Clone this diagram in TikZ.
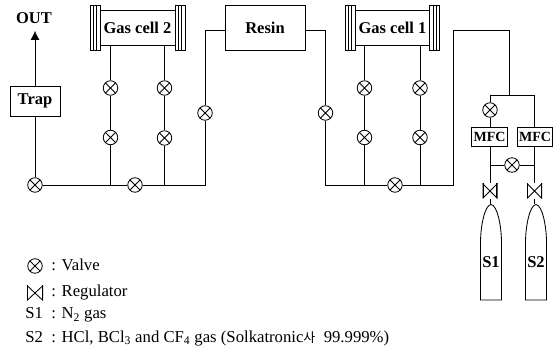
\documentclass[tikz,border=0pt]{standalone}
\usepackage{fontspec}
\usetikzlibrary{arrows.meta,backgrounds}
\setmainfont{Liberation Serif}
\newfontfamily\krfont{Noto Sans CJK KR}
\begin{document}
\begin{tikzpicture}[x=1pt,y=-1pt,line width=0.85pt,
  valve/.style={circle,draw,fill=white,minimum size=14.5pt,inner sep=0pt,
    path picture={\draw (path picture bounding box.north west)--(path picture bounding box.south east)
      (path picture bounding box.south west)--(path picture bounding box.north east);}},
  regulator/.style={minimum width=15pt,minimum height=15pt,inner sep=0pt,
    path picture={\draw (path picture bounding box.north west)--(path picture bounding box.south east)
      (path picture bounding box.south west)--(path picture bounding box.north east);
      \draw[line width=2.6pt] (path picture bounding box.north west)--(path picture bounding box.south west)
      (path picture bounding box.north east)--(path picture bounding box.south east);}},
  box/.style={draw,fill=white,inner sep=0pt,font=\bfseries\fontsize{16.5}{16.5}\selectfont},
  mfc/.style={box,minimum width=35.5pt,minimum height=19pt,font=\bfseries\fontsize{14}{14}\selectfont},
  flange/.style={draw,fill=white,minimum width=10pt,minimum height=45pt,inner sep=0pt,
    path picture={\draw ([xshift=3.5pt]path picture bounding box.north west)--([xshift=3.5pt]path picture bounding box.south west)
    ([xshift=-3.5pt]path picture bounding box.north east)--([xshift=-3.5pt]path picture bounding box.south east);}},
  label/.style={font=\bfseries\fontsize{16.5}{16.5}\selectfont,inner sep=0pt},
  legend/.style={font=\fontsize{16.7}{16.7}\selectfont,inner sep=0pt,anchor=base west}]
\useasboundingbox (0,0) rectangle (559,352);
% junctions
\coordinate (j1) at (110.5,185);
\coordinate (j2) at (164.5,185);
\coordinate (j3) at (205,185);
\coordinate (j4) at (205,30.5);
\coordinate (j5) at (325.5,30.5);
\coordinate (j6) at (325.5,185);
\coordinate (j7) at (364.5,185);
\coordinate (j8) at (420,185);
\coordinate (j9) at (453.5,185);
\coordinate (j10) at (453.5,30.5);
\coordinate (j11) at (509.5,30.5);
\coordinate (j12) at (509.5,95);
\coordinate (j13) at (490,95);
\coordinate (j14) at (534.5,95);
\coordinate (j15) at (490,165);
\coordinate (j16) at (534.5,165);
\coordinate (c1) at (490,204.5);
\coordinate (c2) at (534.5,204.5);
\coordinate (outtip) at (35,31);
% boxes
\node[box,minimum width=50pt,minimum height=30pt] (trap) at (35,101) {\raisebox{-1pt}{Trap}};
\node[label] (out) at (34,18) {OUT};
\node[box,minimum width=75pt,minimum height=35pt] (gc2) at (137.5,28) {\raisebox{-1pt}{Gas cell 2}};
\node[flange] (f2l) at (95,27.5) {};
\node[flange] (f2r) at (180,27.5) {};
\node[box,minimum width=80pt,minimum height=45pt] (resin) at (265,28) {\raisebox{-1pt}{Resin}};
\node[box,minimum width=75pt,minimum height=35pt] (gc1) at (392.5,28) {\raisebox{-1pt}{Gas cell 1}};
\node[flange] (f1l) at (350,27.5) {};
\node[flange] (f1r) at (434.5,27.5) {};
\node[mfc] (m1) at (489.5,136.5) {MFC};
\node[mfc] (m2) at (535,136.5) {MFC};
% valves
\node[valve] (v0) at (35,185) {};
\node[valve] (v1) at (135,185) {};
\node[valve] (v2) at (205,113) {};
\node[valve] (v3) at (110.5,88) {};
\node[valve] (v4) at (110.5,137.5) {};
\node[valve] (v5) at (164.5,88) {};
\node[valve] (v6) at (164.5,138) {};
\node[valve] (v7) at (325.5,113) {};
\node[valve] (v8) at (364.5,88) {};
\node[valve] (v9) at (364.5,137.5) {};
\node[valve] (v10) at (420,88) {};
\node[valve] (v11) at (420,137.5) {};
\node[valve] (v12) at (395,185) {};
\node[valve] (v13) at (490,110) {};
\node[valve] (v14) at (512,165) {};
\node[regulator] (r1) at (490,191) {};
\node[regulator] (r2) at (534.5,191) {};
% cylinders
\draw[fill=white] (480.5,300) -- (480.5,243) .. controls (480.5,225) and (485,205) .. (491,204.5) .. controls (497,205) and (501.5,225) .. (501.5,243) -- (501.5,300) -- cycle;
\draw[fill=white] (525.5,300) -- (525.5,243) .. controls (525.5,225) and (530,205) .. (536,204.5) .. controls (542,205) and (546.5,225) .. (546.5,243) -- (546.5,300) -- cycle;
\node[label] (s1) at (491,262) {S1};
\node[label] (s2) at (536,262) {S2};
% pipes
\begin{scope}[on background layer]
\draw[-{Latex[length=9pt,width=9pt]}] (trap.north) -- (outtip);
\draw (v0) -- (trap);
\draw (v0) -- (v1) -- (j3) -- (v2);
\draw (v2) -- (j4) -- (resin.west |- j4);
\draw (j1) -- (v4) -- (v3) -- (v3 |- gc2.south);
\draw (j2) -- (v6) -- (v5) -- (v5 |- gc2.south);
\draw (resin.east |- j5) -- (j5) -- (v7) -- (j6) -- (v12) -- (j9) -- (j10) -- (j11) -- (j12);
\draw (j7) -- (v9) -- (v8) -- (v8 |- gc1.south);
\draw (j8) -- (v11) -- (v10) -- (v10 |- gc1.south);
\draw (j13) -- (j14);
\draw (j13) -- (v13) -- (m1.north -| j13);
\draw (j14) -- (m2.north -| j14);
\draw (m1.south -| j13) -- (r1) -- (c1);
\draw (m2.south -| j14) -- (r2) -- (c2);
\draw (j15) -- (v14) -- (j16);
\end{scope}
% legend
\node[valve] (lv) at (35,266) {};
\node[regulator,minimum width=16pt] (lr) at (35,293) {};
\node[legend] (t1) at (51,271) {: Valve};
\node[legend] (t2) at (51,297) {: Regulator};
\node[legend] (t3) at (25,319) {S1\ \ : N\textsubscript{2} gas};
\node[legend] (t4) at (25,342) {S2\ \ : HCl, BCl\textsubscript{3} and CF\textsubscript{4} gas (Solkatronic{\krfont\fontsize{13}{13}\selectfont 사}\ \ 99.999\%)};
\end{tikzpicture}
\end{document}
